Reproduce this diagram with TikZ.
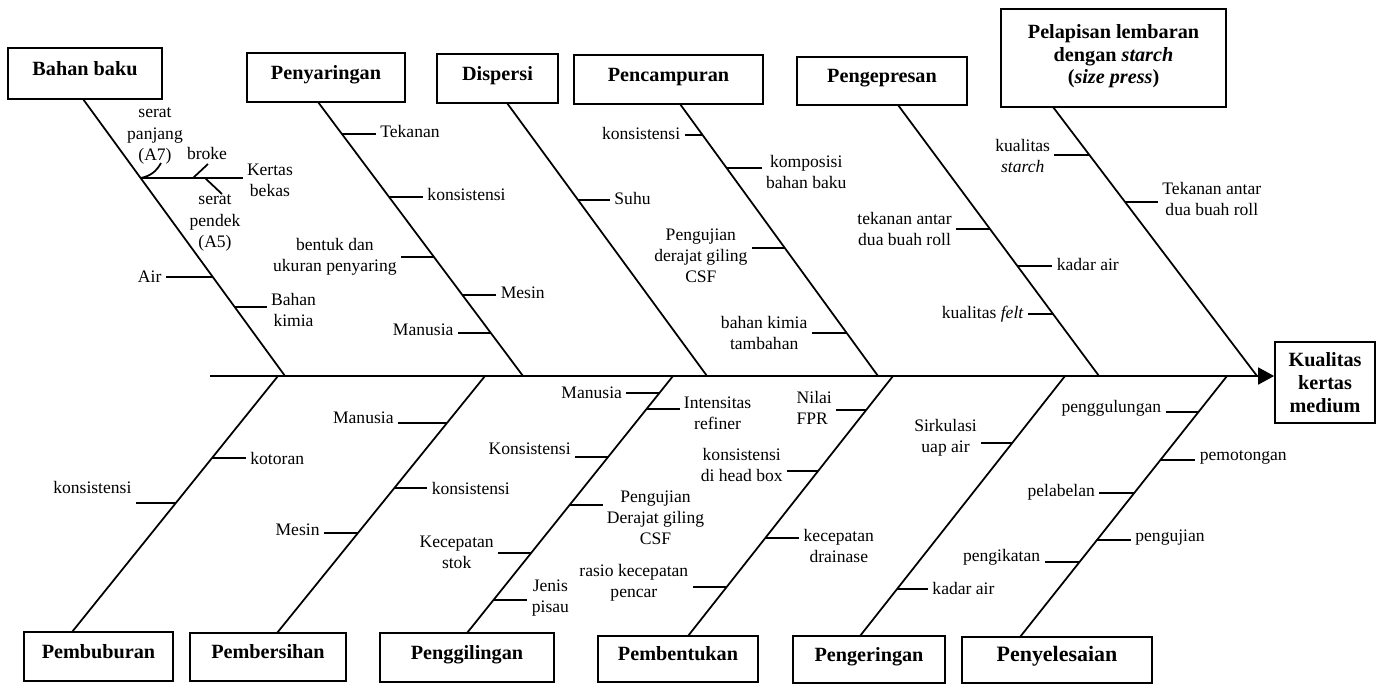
\documentclass[tikz,border=0pt]{standalone}
\usepackage{fontspec}
\setmainfont{Liberation Serif}
\usetikzlibrary{positioning,arrows.meta,calc}

\begin{document}
\begin{tikzpicture}[x=0.02cm,y=-0.02cm,line width=1pt,>={Triangle[length=0.32cm,width=0.34cm]}]
  \tikzstyle{cause}=[draw,font=\bfseries\fontsize{11.5}{13}\selectfont,align=center,inner sep=2pt,text height=5pt,text depth=3pt]
  \tikzstyle{effect}=[draw,font=\bfseries\fontsize{11.5}{13}\selectfont,align=center,inner sep=2pt]
  \tikzstyle{lbl}=[font=\fontsize{10}{12}\selectfont,align=center,inner sep=2pt]

  \useasboundingbox (0,0) rectangle (1378,683);

  % cause boxes above the spine
  \node[cause,minimum width=3.08cm,minimum height=1.02cm] (bb) at (85,73.5) {Bahan baku};
  \node[cause,minimum width=3.16cm,minimum height=0.98cm] (py) at (326,77.5) {Penyaringan};
  \node[cause,minimum width=2.42cm,minimum height=0.98cm] (ds) at (497.5,78.5) {Dispersi};
  \node[cause,minimum width=3.78cm,minimum height=0.98cm] (pc) at (668.5,79.5) {Pencampuran};
  \node[cause,minimum width=3.40cm,minimum height=0.96cm] (pg) at (882,81) {Pengepresan};
  \node[effect,minimum width=4.50cm,minimum height=1.96cm] (pl) at (1113.5,58) {Pelapisan lembaran\\dengan \textit{starch}\\(\textit{size press})\\[-8.5pt]};

  % cause boxes below the spine
  \node[cause,minimum width=2.98cm,minimum height=0.98cm] (pb) at (98.5,656.5) {Pembuburan};
  \node[cause,minimum width=3.12cm,minimum height=0.96cm] (ps) at (268,657) {Pembersihan};
  \node[cause,minimum width=3.48cm,minimum height=0.98cm] (gl) at (467,657.5) {Penggilingan};
  \node[cause,minimum width=3.20cm,minimum height=0.92cm] (bt) at (678,659) {Pembentukan};
  \node[cause,minimum width=3.04cm,minimum height=0.94cm] (gr) at (869,659.5) {Pengeringan};
  \node[cause,minimum width=3.80cm,minimum height=0.92cm,font=\bfseries\fontsize{12.5}{14}\selectfont] (ys) at (1057,660) {Penyelesaian};

  % effect
  \node[effect,minimum width=2.0cm,minimum height=1.62cm] (kq) at (1325,382.5) {Kualitas\\kertas\\medium};

  % spine
  \coordinate (tail) at (210,376);
  \draw[->] (tail) -- (tail -| kq.west);

  % bones
  \coordinate (bbT) at (83,99);    \coordinate (bbS) at (285,376);
  \coordinate (pyT) at (318,102);  \coordinate (pyS) at (523,376);
  \coordinate (dsT) at (507,103);  \coordinate (dsS) at (707,376);
  \coordinate (pcT) at (680,104);  \coordinate (pcS) at (878,376);
  \coordinate (pgT) at (898,105);  \coordinate (pgS) at (1099,376);
  \coordinate (plT) at (1053,107); \coordinate (plS) at (1257,376);
  \coordinate (pbT) at (72,632);   \coordinate (pbS) at (278,376);
  \coordinate (psT) at (277,633);  \coordinate (psS) at (485,376);
  \coordinate (glT) at (467,633);  \coordinate (glS) at (673,376);
  \coordinate (btT) at (688,636);  \coordinate (btS) at (893,376);
  \coordinate (grT) at (860,636);  \coordinate (grS) at (1065,376);
  \coordinate (ysT) at (1020,637); \coordinate (ysS) at (1227,376);
  \foreach \bn in {bb,py,ds,pc,pg,pl,pb,ps,gl,bt,gr,ys}
    \draw (\bn T) -- (\bn S);

  % ribs: name/bone/y/length/anchor/label shift/text
  \foreach \n/\bn/\y/\d/\a/\s/\txt in {
      bb1/bb/178/102/west/2/{Kertas\\bekas},
      bb2/bb/277/-47/east/0/{Air},
      bb3/bb/307/32/west/3/{Bahan\\kimia},
      py1/py/134/34/west/-3/{Tekanan},
      py2/py/197/34/west/-3/{konsistensi},
      py3/py/257/-33/east/0/{bentuk dan\\ukuran penyaring},
      py4/py/295/34/west/-2/{Mesin},
      py5/py/333/-33/east/-3/{Manusia},
      ds1/ds/200/32/west/-2/{Suhu},
      pc1/pc/135/-18/east/-2/{konsistensi},
      pc2/pc/168/35/west/4/{komposisi\\bahan baku},
      pc3/pc/248/-33/east/8/{Pengujian\\derajat giling\\CSF},
      pc4/pc/333/-35/east/0/{bahan kimia\\tambahan},
      pg1/pg/229/-34/east/0/{tekanan antar\\dua buah roll},
      pg2/pg/266/35/west/-2/{kadar air},
      pg3/pg/314/-25/east/0/{kualitas \textit{felt}},
      pl1/pl/155/-35/east/1/{kualitas\\\textit{starch}},
      pl2/pl/202/33/west/-3/{Tekanan antar\\dua buah roll},
      pb1/pb/503/-40/east/-16/{konsistensi},
      pb2/pb/458/34/west/0/{kotoran},
      ps1/ps/423/-49/east/-5/{Manusia},
      ps2/ps/488/33/west/0/{konsistensi},
      ps3/ps/533/-34/east/-3/{Mesin},
      gl1/gl/393/-33/east/0/{Manusia},
      gl2/gl/409/33/west/4/{Intensitas\\refiner},
      gl3/gl/457/-33/east/-8/{Konsistensi},
      gl4/gl/505/33/west/13/{Pengujian\\Derajat giling\\CSF},
      gl5/gl/553/-33/east/-1/{Kecepatan\\stok},
      gl6/gl/600/34/west/-2/{Jenis\\pisau},
      bt1/bt/410/-30/east/0/{\begin{tabular}{@{}l@{}}Nilai\\FPR\end{tabular}},
      bt2/bt/471/-31/east/-6/{konsistensi\\di head box},
      bt3/bt/538/34/west/8/{kecepatan\\drainase},
      bt4/bt/587/-34/east/-4/{rasio kecepatan\\pencar},
      gr1/gr/443/-31/east/-5/{Sirkulasi\\uap air},
      gr2/gr/589/31/west/-1/{kadar air},
      ys1/ys/412/-33/east/-4/{penggulungan},
      ys2/ys/460/35/west/-3/{pemotongan},
      ys3/ys/493/-35/east/-1/{pelabelan},
      ys4/ys/540/34/west/-2/{pengujian},
      ys5/ys/562/-35/east/-5/{pengikatan}} {
    \coordinate (\n) at (intersection of \bn T--\bn S and 0,\y--1,\y);
    \coordinate (\n e) at ($(\n)+(\d,0)$);
    \node[lbl,anchor=\a] (\n t) at ($(\n e)+(0,\s)$) {\txt};
    \draw (\n) -- (\n e);
  }

  % small branches on Kertas bekas
  \coordinate (k1) at (193,178);
  \coordinate (k2) at (205,178);
  \coordinate (spA) at (161,163);
  \coordinate (brA) at (208,164);
  \coordinate (pdA) at (222,194);
  \draw (bb1) to[bend right=25] (spA);
  \draw (k1) -- (brA);
  \draw (k2) -- (pdA);
  \node[lbl] (sp) at (155,136) {serat\\panjang\\(A7)};
  \node[lbl] (br) at (207,153) {broke};
  \node[lbl] (pd) at (215,223) {serat\\pendek\\(A5)};
\end{tikzpicture}
\end{document}
